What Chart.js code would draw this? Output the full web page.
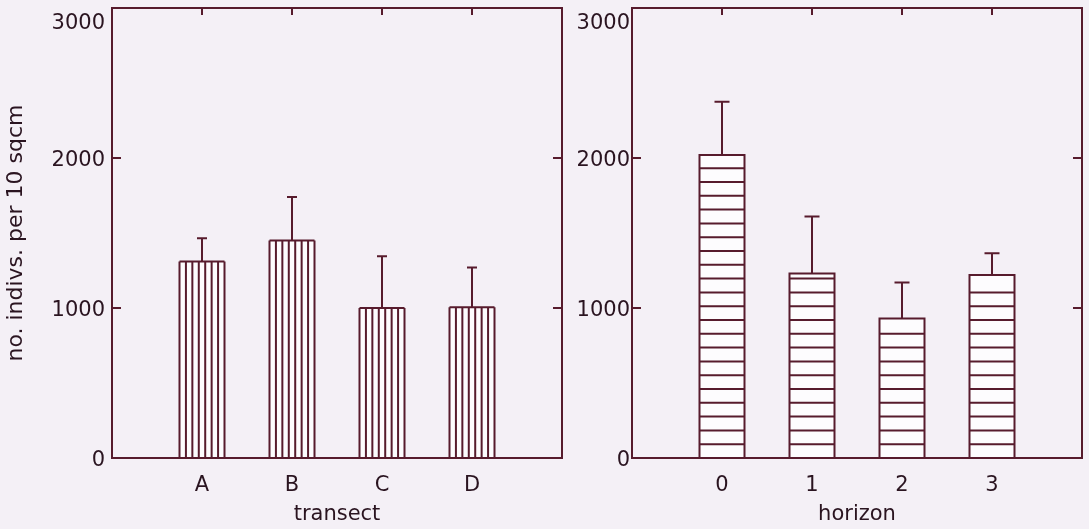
<!DOCTYPE html>
<html>
<head>
<meta charset="utf-8">
<script src="https://cdn.jsdelivr.net/npm/chart.js@4.4.1/dist/chart.umd.min.js"></script>
<style>
  html, body { margin: 0; padding: 0; background: #f4f0f6; }
  #wrap { position: relative; width: 1089px; height: 529px; }
  .panel { position: absolute; top: 0; height: 529px; }
</style>
</head>
<body>
<div id="wrap">
  <div class="panel" style="left:0;width:570px"><canvas id="left"></canvas></div>
  <div class="panel" style="left:570px;width:519px"><canvas id="right"></canvas></div>
</div>
<script>
// data
const transects = ['A', 'B', 'C', 'D'];
const transectMeans = [1310, 1450, 1000, 1005];
const transectErrors = [155, 290, 345, 265];

const horizons = ['0', '1', '2', '3'];
const horizonMeans = [2020, 1230, 930, 1220];
const horizonErrors = [355, 380, 240, 145];

const yTicks = [0, 1000, 2000, 3000];
const yTitle = 'no. indivs. per 10 sqcm';

const INK = '#571b2d';
const TEXT = '#2a1420';
const FONT = "'DejaVu Sans', 'Liberation Sans', Arial, sans-serif";

Chart.defaults.font.family = FONT;
Chart.defaults.color = TEXT;

// hatched bars + error bars, drawn on the bar elements laid out by chart.js
const hatchPlugin = {
  id: 'hatch',
  afterDatasetsDraw(chart, args, o) {
    const ctx = chart.ctx;
    const ys = chart.scales.y;
    const meta = chart.getDatasetMeta(0);
    ctx.save();
    ctx.strokeStyle = INK;
    ctx.lineWidth = 2;
    meta.data.forEach((bar, i) => {
      const { x, y, base, width } = bar.getProps(['x', 'y', 'base', 'width'], true);
      const l = x - width / 2, r = x + width / 2;
      ctx.beginPath();
      if (o.dir === 'v') {
        const n = 7;
        for (let k = 0; k <= n; k++) {
          const xx = l + k * width / n;
          ctx.moveTo(xx, base);
          ctx.lineTo(xx, y);
        }
        ctx.moveTo(l, y);
        ctx.lineTo(r, y);
      } else {
        ctx.rect(l, y, width, base - y);
        for (let yy = base - o.step; yy > y + 4; yy -= o.step) {
          ctx.moveTo(l, yy);
          ctx.lineTo(r, yy);
        }
      }
      ctx.stroke();

      const v = chart.data.datasets[0].data[i].y;
      const top = ys.getPixelForValue(v + o.errors[i]);
      ctx.beginPath();
      ctx.moveTo(x, y);
      ctx.lineTo(x, top);
      ctx.moveTo(x - o.cap / 2, top);
      ctx.lineTo(x + o.cap / 2, top);
      ctx.stroke();
    });
    ctx.restore();
  }
};

// box frame with inward tick marks
const framePlugin = {
  id: 'frame',
  afterDraw(chart) {
    const ctx = chart.ctx;
    const { left, right, top, bottom } = chart.chartArea;
    const xs = chart.scales.x, ys = chart.scales.y;
    ctx.save();
    ctx.strokeStyle = INK;
    ctx.lineWidth = 2;
    ctx.strokeRect(left, top, right - left, bottom - top);
    ctx.beginPath();
    yTicks.forEach(v => {
      const py = ys.getPixelForValue(v);
      ctx.moveTo(left, py); ctx.lineTo(left + 9, py);
      ctx.moveTo(right, py); ctx.lineTo(right - 9, py);
    });
    for (let i = 0; i < 4; i++) {
      const px = xs.getPixelForValue(i);
      ctx.moveTo(px, top); ctx.lineTo(px, top + 7);
    }
    ctx.stroke();
    ctx.restore();
  }
};

function makeChart(id, cats, means, errors, cfg) {
  return new Chart(document.getElementById(id), {
    type: 'bar',
    data: {
      datasets: [{
        data: means.map((v, i) => ({ x: i, y: v })),
        backgroundColor: '#fdfcfe',
        borderWidth: 0,
        barThickness: 45
      }]
    },
    options: {
      responsive: true,
      maintainAspectRatio: false,
      animation: false,
      layout: { padding: { left: 0, right: cfg.padRight, top: 8, bottom: 0 } },
      plugins: {
        legend: { display: false },
        tooltip: { enabled: false },
        hatch: { dir: cfg.dir, errors: errors, cap: cfg.cap, step: 13.8 }
      },
      scales: {
        x: {
          type: 'linear', min: -1, max: 4, offset: false,
          grid: { display: false, drawTicks: false },
          border: { display: false },
          ticks: {
            stepSize: 1, padding: 15, autoSkip: false, maxRotation: 0,
            font: { size: 21 },
            callback: v => (cats[v] !== undefined ? cats[v] : '')
          },
          title: { display: true, text: cfg.xTitle, font: { size: 21 }, padding: { top: 0, bottom: 2 } },
          afterFit: s => { s.height = 71; s.paddingLeft = 0; s.paddingRight = 0; }
        },
        y: {
          min: 0, max: 3000,
          grid: { display: false, drawTicks: false },
          border: { display: false },
          afterBuildTicks: s => { s.ticks = yTicks.map(v => ({ value: v })); },
          ticks: {
            padding: cfg.tickPad, labelOffset: 3,
            font: { size: 21 },
            callback: v => (v === yTicks[yTicks.length - 1] ? ['', String(v)] : String(v))
          },
          title: { display: cfg.showYTitle, text: yTitle, font: { size: 22 }, padding: { top: 3, bottom: 0 } },
          afterFit: s => { s.width = cfg.yWidth; s.paddingTop = 0; s.paddingBottom = 0; }
        }
      }
    },
    plugins: [hatchPlugin, framePlugin]
  });
}

makeChart('left', transects, transectMeans, transectErrors,
  { dir: 'v', cap: 10, padRight: 8, yWidth: 112, tickPad: 7, xTitle: 'transect', showYTitle: true });
makeChart('right', horizons, horizonMeans, horizonErrors,
  { dir: 'h', cap: 15, padRight: 7, yWidth: 62, tickPad: 2, xTitle: 'horizon', showYTitle: false });
</script>
</body>
</html>
